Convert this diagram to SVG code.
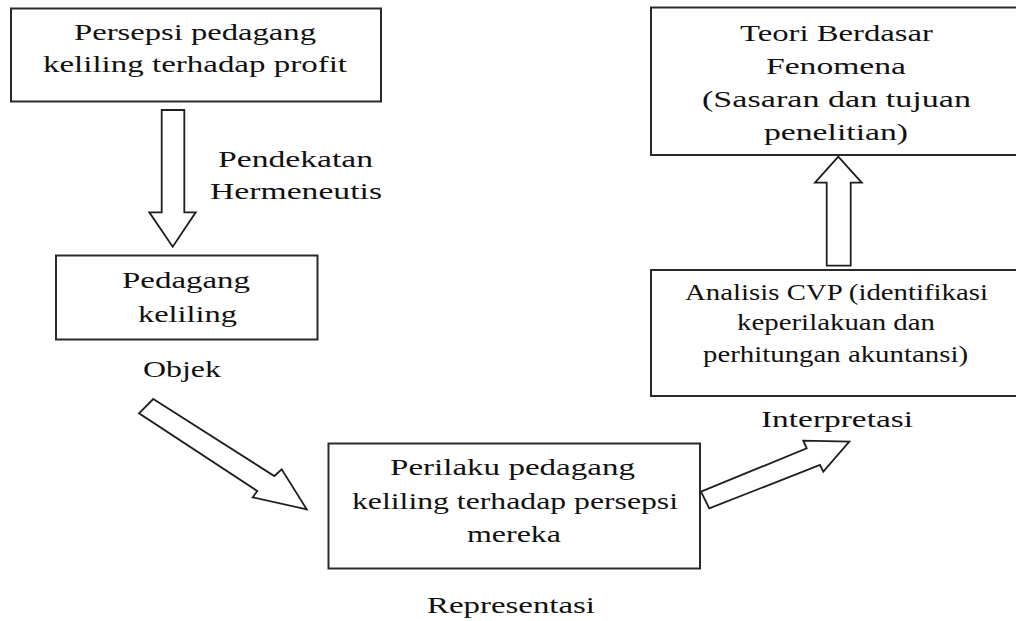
<svg xmlns="http://www.w3.org/2000/svg" width="1016" height="621" viewBox="0 0 1016 621">
<style>
  .box { fill: #ffffff; stroke: #2a2a2a; stroke-width: 2; }
  .arrow { fill: #ffffff; stroke: #1e1e1e; stroke-width: 1.8; stroke-linejoin: miter; }
  text { font-family: "Liberation Serif", "Times New Roman", serif; font-size: 24px; fill: #111111; }
  .sm { font-size: 23px; }
</style>
<rect x="0" y="0" width="1016" height="621" fill="#ffffff"/>
<g id="connectors">
  <polygon class="arrow" points="161.7,110 184.3,110 184.3,212.3 195.7,212.3 172.7,246.7 149.3,212.3 161.7,212.3"/>
  <polygon class="arrow" points="153.3,399 274.3,476 281.7,469.3 306.7,509.3 252.7,497.3 257.3,491 139,413.3"/>
  <polygon class="arrow" points="701,491.7 806.7,448.3 803.3,440.7 849.3,441.7 823.3,471.7 820,465 709.3,508.3"/>
  <polygon class="arrow" points="826.7,265.7 850.7,265.7 850.7,182.7 861.7,182.7 838.3,156.7 815,182.7 826.7,182.7"/>
</g>
<g id="node-persepsi">
  <rect class="box" x="11" y="8.5" width="370" height="93"/>
  <text x="74" y="40" textLength="242" lengthAdjust="spacingAndGlyphs">Persepsi pedagang</text>
  <text x="43" y="72" textLength="304" lengthAdjust="spacingAndGlyphs">keliling terhadap profit</text>
</g>
<g id="label-pendekatan">
  <text x="218" y="167" textLength="155" lengthAdjust="spacingAndGlyphs">Pendekatan</text>
  <text x="210" y="199" textLength="172" lengthAdjust="spacingAndGlyphs">Hermeneutis</text>
</g>
<g id="node-pedagang">
  <rect class="box" x="56" y="255.5" width="261.5" height="84"/>
  <text x="122" y="288" textLength="128" lengthAdjust="spacingAndGlyphs">Pedagang</text>
  <text x="138" y="322" textLength="99" lengthAdjust="spacingAndGlyphs">keliling</text>
</g>
<g id="label-objek">
  <text x="143" y="377" textLength="78" lengthAdjust="spacingAndGlyphs">Objek</text>
</g>
<g id="node-perilaku">
  <rect class="box" x="328.5" y="443.5" width="371.5" height="125"/>
  <text x="390" y="475" textLength="245" lengthAdjust="spacingAndGlyphs">Perilaku pedagang</text>
  <text x="352" y="509" textLength="326" lengthAdjust="spacingAndGlyphs">keliling terhadap persepsi</text>
  <text x="467" y="542" textLength="94" lengthAdjust="spacingAndGlyphs">mereka</text>
</g>
<g id="label-representasi">
  <text x="427" y="613" textLength="168" lengthAdjust="spacingAndGlyphs">Representasi</text>
</g>
<g id="node-teori">
  <rect class="box" x="651" y="7.5" width="372" height="147.5"/>
  <text x="740" y="41" textLength="193" lengthAdjust="spacingAndGlyphs">Teori Berdasar</text>
  <text x="766" y="74" textLength="140" lengthAdjust="spacingAndGlyphs">Fenomena</text>
  <text x="702" y="107" textLength="269" lengthAdjust="spacingAndGlyphs">(Sasaran dan tujuan</text>
  <text x="764" y="140" textLength="144" lengthAdjust="spacingAndGlyphs">penelitian)</text>
</g>
<g id="node-cvp">
  <rect class="box" x="651" y="270" width="372" height="126"/>
  <text class="sm" x="685" y="300" textLength="303" lengthAdjust="spacingAndGlyphs">Analisis CVP (identifikasi</text>
  <text class="sm" x="737" y="330" textLength="198" lengthAdjust="spacingAndGlyphs">keperilakuan  dan</text>
  <text class="sm" x="703" y="362" textLength="265" lengthAdjust="spacingAndGlyphs">perhitungan akuntansi)</text>
</g>
<g id="label-interpretasi">
  <text x="761" y="427" textLength="152" lengthAdjust="spacingAndGlyphs">Interpretasi</text>
</g>
</svg>
